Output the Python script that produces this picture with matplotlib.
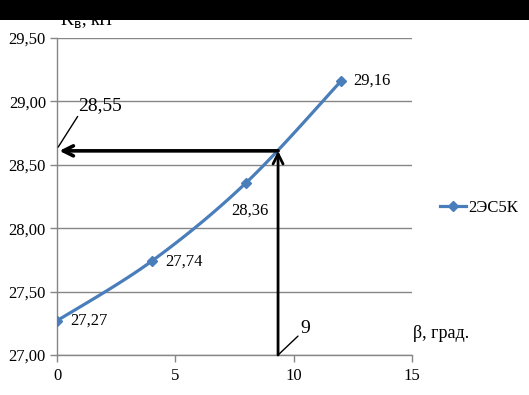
import numpy as np
import matplotlib
matplotlib.use("Agg")
import matplotlib.pyplot as plt
from matplotlib.patches import Rectangle

# Data
beta = [0, 4, 8, 12]
kv = [27.27, 27.74, 28.36, 29.16]
point_labels = ["27,27", "27,74", "28,36", "29,16"]
series_name = "2ЭС5К"
x_ticks = [0, 5, 10, 15]
y_ticks = [27.0, 27.5, 28.0, 28.5, 29.0, 29.5]
y_tick_labels = ["27,00", "27,50", "28,00", "28,50", "29,00", "29,50"]
cross_x = 9.34
cross_y = 28.61
cross_x_label = "9"
cross_y_label = "28,55"

plt.rcParams['font.family'] = ['Liberation Serif', 'DejaVu Serif']

fig = plt.figure(figsize=(5.29, 3.95), dpi=100)
ax = fig.add_axes([57/529, 1-355/395, (412-57)/529, (355-38)/395])

# Catmull-Rom style smoothing (Excel smoothed line)
def smooth(xs, ys, n=30):
    xs = np.asarray(xs, float); ys = np.asarray(ys, float)
    px = np.concatenate([[xs[0]], xs, [xs[-1]]])
    py = np.concatenate([[ys[0]], ys, [ys[-1]]])
    ox, oy = [], []
    for i in range(1, len(px) - 2):
        p0 = np.array([px[i-1], py[i-1]]); p1 = np.array([px[i], py[i]])
        p2 = np.array([px[i+1], py[i+1]]); p3 = np.array([px[i+2], py[i+2]])
        c1 = p1 + (p2 - p0) / 6
        c2 = p2 - (p3 - p1) / 6
        t = np.linspace(0, 1, n)[:, None]
        b = (1-t)**3*p1 + 3*(1-t)**2*t*c1 + 3*(1-t)*t**2*c2 + t**3*p2
        ox.extend(b[:, 0]); oy.extend(b[:, 1])
    return ox, oy

sx, sy = smooth(beta, kv)
blue = '#4A7EBB'
ax.plot(sx, sy, color=blue, lw=2.3, zorder=3, solid_capstyle='round')
ax.plot(beta, kv, linestyle='none', marker='D', ms=5.5, color=blue, zorder=4)
ax.plot([], [], color=blue, lw=2.3, marker='D', ms=5.5, label=series_name)

offsets = [(9.5, 0), (9.5, 0), (-11, -20), (8.5, 0)]
for x, y, lab, off in zip(beta, kv, point_labels, offsets):
    ax.annotate(lab, (x, y), xytext=off, textcoords='offset points', fontsize=12,
                ha='left', va='center', zorder=5)

ax.set_xlim(0, 15)
ax.set_ylim(27.0, 29.5)
ax.set_xticks(x_ticks)
ax.set_xticklabels([str(t) for t in x_ticks], fontsize=12)
ax.set_yticks(y_ticks)
ax.set_yticklabels(y_tick_labels, fontsize=12)
ax.grid(axis='y', color='#868686', lw=1)
ax.set_axisbelow(True)
for s in ['top', 'right']:
    ax.spines[s].set_visible(False)
for s in ['left', 'bottom']:
    ax.spines[s].set_color('#868686')
    ax.spines[s].set_linewidth(1)
ax.tick_params(axis='both', color='#868686', length=5, width=1, direction='out')
ax.tick_params(axis='x', pad=4)
ax.tick_params(axis='y', pad=3)

# Arrows
ax.annotate('', xy=(cross_x, cross_y), xytext=(cross_x, 27.0),
            arrowprops=dict(arrowstyle='->', lw=2, color='black', mutation_scale=18,
                            shrinkA=0, shrinkB=0), zorder=6)
ax.annotate('', xy=(0.1, cross_y), xytext=(cross_x, cross_y),
            arrowprops=dict(arrowstyle='->', lw=2.6, color='black', mutation_scale=18,
                            shrinkA=0, shrinkB=0), zorder=6)
# Callouts
ax.annotate(cross_y_label, xy=(0.05, 28.64), xytext=(0.9, 28.97), fontsize=14,
            ha='left', va='center',
            arrowprops=dict(arrowstyle='-', lw=1, color='black', shrinkA=0, shrinkB=0,
                            relpos=(0.05, 0.1)), annotation_clip=False)
ax.annotate(cross_x_label, xy=(cross_x, 27.0), xytext=(10.3, 27.21), fontsize=14,
            ha='left', va='center',
            arrowprops=dict(arrowstyle='-', lw=1, color='black', shrinkA=0, shrinkB=0,
                            relpos=(0.0, 0.2)), annotation_clip=False)

fig.text(413/529, 1-333/395, "β, град.", fontsize=13, ha='left', va='center')
fig.text(60/529, 1-20/395, "K$_\\mathrm{в}$, кН", fontsize=13, ha='left', va='center')

leg = fig.legend(loc='center left', bbox_to_anchor=(437/529, 1-208/395), frameon=False,
                 fontsize=12, handlelength=1.55, handletextpad=0.15, borderpad=0.2,
                 borderaxespad=0)

fig.add_artist(Rectangle((0, 1-20/395), 1, 20/395, transform=fig.transFigure,
                         facecolor='black', edgecolor='none', zorder=100))

fig.savefig('out.png', dpi=100)
